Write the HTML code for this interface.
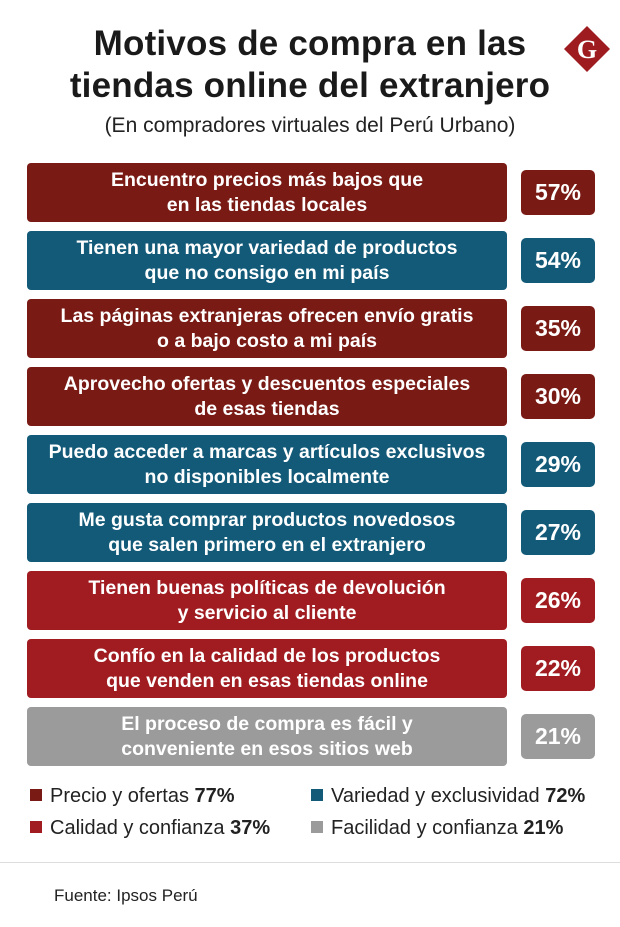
<!DOCTYPE html>
<html><head><meta charset="utf-8"><style>
html,body{margin:0;padding:0;background:#fff;}
body{width:620px;height:927px;position:relative;overflow:hidden;font-family:"Liberation Sans Narrow","Liberation Sans",sans-serif;}
.title{position:absolute;left:0;width:620px;text-align:center;font-weight:bold;font-size:35px;color:#1a1a1a;line-height:42px;top:23px;letter-spacing:0.2px}
.sub{position:absolute;left:0;width:620px;text-align:center;font-size:21px;color:#222;top:114px}
.bar{position:absolute;left:27px;width:480px;height:59px;border-radius:4px;color:#fff;font-weight:bold;font-size:19.5px;line-height:25px;text-align:center;display:flex;align-items:center;justify-content:center}
.val{position:absolute;left:521px;width:74px;height:45px;border-radius:5px;color:#fff;font-weight:bold;font-size:23px;display:flex;align-items:center;justify-content:center}
.leg{position:absolute;font-size:20px;color:#222;}
.leg i{display:inline-block;width:12px;height:12px;margin-right:8px;vertical-align:1px}
</style></head><body>
<div class="title">Motivos de compra en las<br>tiendas online del extranjero</div>
<svg style="position:absolute;left:563px;top:25px" width="48" height="48"><polygon points="24,1 47,24 24,47 1,24" fill="#9e1b20"/><text x="24" y="33" text-anchor="middle" font-family="Liberation Serif,serif" font-weight="bold" font-size="26" fill="#fff">G</text></svg>
<div class="sub">(En compradores virtuales del Perú Urbano)</div>
<div id="rows"></div>
<div class="leg" style="left:30px;top:785px"><i style="background:#7a1a14"></i>Precio y ofertas <b>77%</b></div>
<div class="leg" style="left:311px;top:785px"><i style="background:#125a78"></i>Variedad y exclusividad <b>72%</b></div>
<div class="leg" style="left:30px;top:817px"><i style="background:#a01c21"></i>Calidad y confianza <b>37%</b></div>
<div class="leg" style="left:311px;top:817px"><i style="background:#9b9b9b"></i>Facilidad y confianza <b>21%</b></div>
<div style="position:absolute;left:0;top:862px;width:620px;height:1px;background:#ddd"></div>
<div style="position:absolute;left:54px;top:886px;font-size:17px;color:#222">Fuente: Ipsos Perú</div>
<script>
const labels=["Encuentro precios más bajos que<br>en las tiendas locales","Tienen una mayor variedad de productos<br>que no consigo en mi país","Las páginas extranjeras ofrecen envío gratis<br>o a bajo costo a mi país","Aprovecho ofertas y descuentos especiales<br>de esas tiendas","Puedo acceder a marcas y artículos exclusivos<br>no disponibles localmente","Me gusta comprar productos novedosos<br>que salen primero en el extranjero","Tienen buenas políticas de devolución<br>y servicio al cliente","Confío en la calidad de los productos<br>que venden en esas tiendas online","El proceso de compra es fácil y<br>conveniente en esos sitios web"];
const values=[57,54,35,30,29,27,26,22,21];
const groups=["precio","variedad","precio","precio","variedad","variedad","calidad","calidad","facilidad"];
const colors={precio:"#7a1a14",variedad:"#125a78",calidad:"#a01c21",facilidad:"#9b9b9b"};
const root=document.getElementById('rows');
labels.forEach((l,i)=>{
  const y=163+i*68;
  const b=document.createElement('div');
  b.className='bar';b.style.top=y+'px';b.style.background=colors[groups[i]];b.innerHTML=l;
  
  
  root.appendChild(b);
  const v=document.createElement('div');
  v.className='val';v.style.top=(y+7)+'px';v.style.background=colors[groups[i]];v.textContent=values[i]+'%';
  
  
  root.appendChild(v);
});
</script>
</body></html>
